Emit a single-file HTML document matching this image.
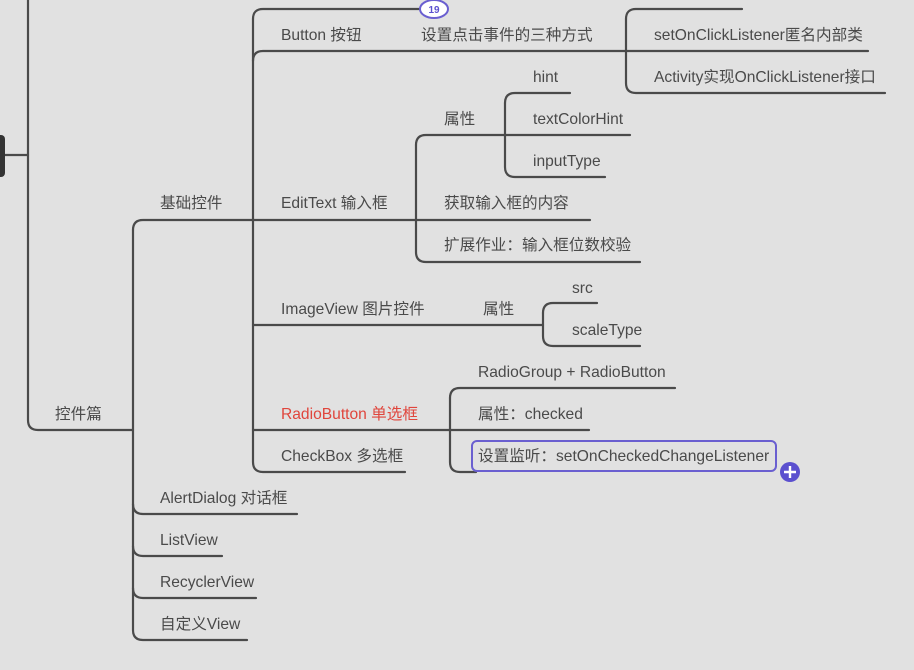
<!DOCTYPE html>
<html><head><meta charset="utf-8"><style>
html,body{margin:0;padding:0;background:#e1e1e1;}
svg{display:block}
text{font-family:"Liberation Sans","Noto Sans CJK SC",sans-serif;font-size:15.6px;fill:#4a4a4a}
</style></head><body>
<svg width="914" height="670" viewBox="0 0 914 670" xmlns="http://www.w3.org/2000/svg">
<rect width="914" height="670" fill="#e1e1e1"/>
<g fill="none" stroke="#4a4a4a" stroke-width="2.2" stroke-linecap="round">
<path d="M28 0 V420 Q28 430 38 430 H133"/>
<path d="M0 155 H28"/>
<path d="M133 230 Q133 220 143 220 H253"/>
<path d="M133 230 V630 Q133 640 143 640 H247"/>
<path d="M133 504 Q133 514 143 514 H297"/>
<path d="M133 546 Q133 556 143 556 H222"/>
<path d="M133 588 Q133 598 143 598 H256"/>
<path d="M253 19 Q253 9 263 9 H420"/>
<path d="M253 19 V462 Q253 472 263 472 H405"/>
<path d="M253 61 Q253 51 263 51 H626"/>
<path d="M253 220 H416"/>
<path d="M253 325 H543"/>
<path d="M253 430 H450"/>
<path d="M626 19 Q626 9 636 9 H742"/>
<path d="M626 19 V83 Q626 93 636 93 H885"/>
<path d="M626 51 H868"/>
<path d="M416 145 Q416 135 426 135 H505"/>
<path d="M416 145 V252 Q416 262 426 262 H640"/>
<path d="M416 220 H590"/>
<path d="M505 103 Q505 93 515 93 H570"/>
<path d="M505 103 V167 Q505 177 515 177 H605"/>
<path d="M505 135 H630"/>
<path d="M543 313 Q543 303 553 303 H597"/>
<path d="M543 313 V336 Q543 346 553 346 H640"/>
<path d="M450 398 Q450 388 460 388 H675"/>
<path d="M450 398 V462 Q450 472 460 472 H476"/>
<path d="M450 430 H589"/>
</g>
<rect x="-6" y="135" width="11" height="42" rx="4" fill="#333"/>
<rect x="472" y="441" width="304" height="30" rx="5" fill="none" stroke="#6a5fd0" stroke-width="2"/>
<circle cx="790" cy="472" r="10" fill="#5b50cf"/>
<path d="M784 472 H796 M790 466 V478" stroke="#fff" stroke-width="2.4"/>
<ellipse cx="434" cy="9" rx="14" ry="9" fill="#fff" stroke="#6a5fd0" stroke-width="2"/>
<text x="434" y="13" text-anchor="middle" style="font-size:10px;font-weight:bold;fill:#5b50cf">19</text>
<text x="55" y="419">控件篇</text>
<text x="160" y="208">基础控件</text>
<text x="160" y="503">AlertDialog 对话框</text>
<text x="160" y="545">ListView</text>
<text x="160" y="587">RecyclerView</text>
<text x="160" y="629">自定义View</text>
<text x="281" y="40">Button 按钮</text>
<text x="281" y="208">EditText 输入框</text>
<text x="281" y="314">ImageView 图片控件</text>
<text x="281" y="419" style="fill:#e0453c">RadioButton 单选框</text>
<text x="281" y="461">CheckBox 多选框</text>
<text x="421" y="40">设置点击事件的三种方式</text>
<text x="654" y="40">setOnClickListener匿名内部类</text>
<text x="654" y="82">Activity实现OnClickListener接口</text>
<text x="444" y="124">属性</text>
<text x="444" y="208">获取输入框的内容</text>
<text x="444" y="250">扩展作业：输入框位数校验</text>
<text x="533" y="82">hint</text>
<text x="533" y="124">textColorHint</text>
<text x="533" y="166">inputType</text>
<text x="483" y="314">属性</text>
<text x="572" y="293">src</text>
<text x="572" y="335">scaleType</text>
<text x="478" y="377">RadioGroup + RadioButton</text>
<text x="478" y="419">属性：checked</text>
<text x="478" y="461">设置监听：setOnCheckedChangeListener</text>
</svg>
</body></html>
